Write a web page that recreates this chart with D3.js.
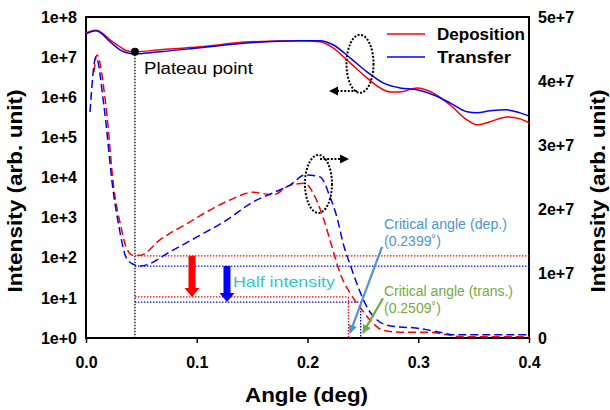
<!DOCTYPE html>
<html>
<head>
<meta charset="utf-8">
<script src="https://cdn.jsdelivr.net/npm/d3@7"></script>
<style>
  body { margin: 0; background: #fff; }
  text { font-family: "Liberation Sans", Arial, sans-serif; }
</style>
</head>
<body>
<div id="chart"></div>
<script>
// ── Axis ticks ───────────────────────────────────────────────
const angleTicks      = [0, 0.1, 0.2, 0.3, 0.4];
const leftTicks       = [1, 1e1, 1e2, 1e3, 1e4, 1e5, 1e6, 1e7, 1e8];
const leftTickLabels  = ['1e+0', '1e+1', '1e+2', '1e+3', '1e+4', '1e+5', '1e+6', '1e+7', '1e+8'];
const rightTicks      = [0, 1e7, 2e7, 3e7, 4e7, 5e7];
const rightTickLabels = ['0', '1e+7', '2e+7', '3e+7', '4e+7', '5e+7'];

// ── Solid curves (left, log axis) ───────────────────────────
const depSolidAngle = [0, 0.009, 0.0144, 0.0217, 0.0307, 0.037, 0.0442, 0.0668, 0.1029, 0.1481, 0.1932, 0.2113, 0.223, 0.2384, 0.2537, 0.2655, 0.2745, 0.2835, 0.2989, 0.3133, 0.3287, 0.344, 0.353, 0.3648, 0.3801, 0.3919, 0.4];
const depSolid      = [4.04e7, 4.66e7, 4.04e7, 2.70e7, 1.81e7, 1.44e7, 1.36e7, 1.52e7, 1.81e7, 2.41e7, 2.55e7, 2.41e7, 1.71e7, 7.21e6, 3.05e6, 1.71e6, 1.36e6, 1.36e6, 1.71e6, 1.29e6, 6.46e5, 2.73e5, 2.05e5, 2.44e5, 3.24e5, 2.89e5, 2.30e5];
const trSolidAngle  = [0, 0.009, 0.0144, 0.0217, 0.0307, 0.037, 0.0442, 0.0668, 0.1029, 0.1481, 0.1932, 0.2113, 0.223, 0.2384, 0.2537, 0.2682, 0.2835, 0.2989, 0.3133, 0.3287, 0.344, 0.353, 0.3648, 0.3801, 0.3919, 0.4];
const trSolid       = [3.81e7, 4.53e7, 3.81e7, 2.41e7, 1.52e7, 1.28e7, 1.21e7, 1.36e7, 1.71e7, 2.28e7, 2.55e7, 2.55e7, 2.03e7, 9.62e6, 4.30e6, 2.29e6, 1.71e6, 1.53e6, 1.15e6, 7.24e5, 4.33e5, 4.08e5, 4.58e5, 4.85e5, 4.08e5, 3.44e5];

// ── Dashed curves (right, linear axis) ──────────────────────
const depDashAngle = [0.0072, 0.0099, 0.0181, 0.0253, 0.0316, 0.0361, 0.0424, 0.0488, 0.0668, 0.0939, 0.1147, 0.13, 0.1508, 0.1688, 0.1842, 0.1977, 0.205, 0.214, 0.2221, 0.2294, 0.2384, 0.2474, 0.2564, 0.2682, 0.2835, 0.3106, 0.326, 0.3377, 0.4];
const depDash      = [4.14e7, 4.41e7, 3.60e7, 2.31e7, 1.73e7, 1.42e7, 1.29e7, 1.29e7, 1.53e7, 1.81e7, 2.02e7, 2.15e7, 2.27e7, 2.23e7, 2.38e7, 2.41e7, 2.26e7, 1.88e7, 1.42e7, 1.01e7, 0.70e7, 0.48e7, 0.28e7, 0.12e7, 0.09e7, 0.09e7, 0.05e7, 0.02e7, 0.02e7];
const trDashAngle  = [0.0036, 0.009, 0.0163, 0.0244, 0.0298, 0.0361, 0.0424, 0.0488, 0.0786, 0.1029, 0.1273, 0.1508, 0.1688, 0.1842, 0.1977, 0.2113, 0.2203, 0.2266, 0.2321, 0.2402, 0.2479, 0.2551, 0.2628, 0.2718, 0.2835, 0.2953, 0.3196, 0.3314, 0.4];
const trDash       = [3.52e7, 4.38e7, 3.60e7, 2.31e7, 1.73e7, 1.26e7, 1.15e7, 1.12e7, 1.37e7, 1.60e7, 1.84e7, 2.12e7, 2.26e7, 2.38e7, 2.54e7, 2.51e7, 2.20e7, 1.88e7, 1.48e7, 1.06e7, 0.70e7, 0.44e7, 0.28e7, 0.20e7, 0.17e7, 0.16e7, 0.09e7, 0.05e7, 0.05e7];

// ── Annotations ─────────────────────────────────────────────
const plateau      = { angle: 0.0442, value: 1.36e7 };
const depLevels    = [1.28e7, 0.64e7];   // red: plateau level, half
const trLevels     = [1.12e7, 0.56e7];   // blue: plateau level, half
const critAngles   = [0.237, 0.248];     // dep, trans (as drawn)
const halfArrowAt  = [0.0957, 0.1273];   // red, blue arrow angles

const RED  = '#ff0000';
const BLUE = '#0000ff';

// ── Layout ──────────────────────────────────────────────────
const W = 610, H = 410;
const L = 86, R = 529, T = 17, B = 338;

const svg = d3.select('#chart').append('svg')
  .attr('width', W).attr('height', H);

const x  = d3.scaleLinear().domain([0, 0.4]).range([L, R]);
const yL = d3.scaleLog().domain([1, 1e8]).range([B, T]);
const yR = d3.scaleLinear().domain([0, 5e7]).range([B, T]);

svg.append('defs').append('marker')
  .attr('id', 'head').attr('viewBox', '0 -5 10 10')
  .attr('refX', 9).attr('markerWidth', 4).attr('markerHeight', 4)
  .attr('markerUnits', 'strokeWidth').attr('orient', 'auto')
  .append('path').attr('d', 'M0,-5L10,0L0,5Z').attr('fill', 'context-stroke');

// ── Axes ────────────────────────────────────────────────────
const xAxis = svg.append('g').attr('transform', `translate(0,${B})`)
  .call(d3.axisBottom(x).tickValues(angleTicks).tickFormat(d3.format('.1f')).tickSize(5).tickPadding(14));
const lAxis = svg.append('g').attr('transform', `translate(${L},0)`)
  .call(d3.axisLeft(yL).tickValues(leftTicks).tickFormat((d, i) => leftTickLabels[i]).tickSize(0).tickPadding(9));
const rAxis = svg.append('g').attr('transform', `translate(${R},0)`)
  .call(d3.axisRight(yR).tickValues(rightTicks).tickFormat((d, i) => rightTickLabels[i]).tickSize(0).tickPadding(9));

[xAxis, lAxis, rAxis].forEach(g => {
  g.select('.domain').remove();
  g.selectAll('line').attr('stroke', '#000').attr('stroke-width', 1.5);
  g.selectAll('text').attr('font-size', 16).attr('font-weight', 'bold')
    .attr('fill', '#000').style('font-family', '"Liberation Sans", Arial, sans-serif');
});

svg.append('rect')
  .attr('x', L).attr('y', T).attr('width', R - L).attr('height', B - T)
  .attr('fill', 'none').attr('stroke', '#000').attr('stroke-width', 2);

// Axis titles
svg.append('text')
  .attr('x', (L + R) / 2 - 1).attr('y', 402)
  .attr('text-anchor', 'middle').attr('font-size', 20).attr('font-weight', 'bold')
  .attr('textLength', 123).attr('lengthAdjust', 'spacingAndGlyphs')
  .text('Angle (deg)');
svg.append('text')
  .attr('transform', 'translate(22,191) rotate(-90)')
  .attr('text-anchor', 'middle').attr('font-size', 20).attr('font-weight', 'bold')
  .attr('textLength', 203).attr('lengthAdjust', 'spacingAndGlyphs')
  .text('Intensity (arb. unit)');
svg.append('text')
  .attr('transform', 'translate(605,191) rotate(-90)')
  .attr('text-anchor', 'middle').attr('font-size', 20).attr('font-weight', 'bold')
  .attr('textLength', 203).attr('lengthAdjust', 'spacingAndGlyphs')
  .text('Intensity (arb. unit)');

const plot = svg.append('g');

// ── Plateau marker ──────────────────────────────────────────
plot.append('line')
  .attr('x1', x(plateau.angle)).attr('x2', x(plateau.angle))
  .attr('y1', yL(plateau.value)).attr('y2', B)
  .attr('stroke', '#000').attr('stroke-width', 1.3).attr('stroke-dasharray', '1.5,1.5');

// ── Half-intensity levels ───────────────────────────────────
function levelLines(levels, crit, color) {
  const g = plot.append('g')
    .attr('stroke', color).attr('stroke-width', 1.3).attr('stroke-dasharray', '1.5,1.5');
  g.append('line')
    .attr('x1', x(plateau.angle)).attr('x2', R)
    .attr('y1', yR(levels[0])).attr('y2', yR(levels[0]));
  g.append('line')
    .attr('x1', x(plateau.angle)).attr('x2', x(crit))
    .attr('y1', yR(levels[1])).attr('y2', yR(levels[1]));
  g.append('line')
    .attr('x1', x(crit)).attr('x2', x(crit))
    .attr('y1', yR(levels[1])).attr('y2', B);
}
levelLines(depLevels, critAngles[0], RED);
levelLines(trLevels,  critAngles[1], BLUE);

// ── Curves ──────────────────────────────────────────────────
const pts = (xs, ys) => d3.zip(xs, ys);
const lineL = d3.line().x(d => x(d[0])).y(d => yL(d[1])).curve(d3.curveMonotoneX);
const lineR = d3.line().x(d => x(d[0])).y(d => yR(d[1])).curve(d3.curveMonotoneX);

const curves = [
  { d: lineR(pts(depDashAngle, depDash)),   color: RED,  dash: '8,4' },
  { d: lineR(pts(trDashAngle, trDash)),     color: BLUE, dash: '8,4' },
  { d: lineL(pts(depSolidAngle, depSolid)), color: RED,  dash: null },
  { d: lineL(pts(trSolidAngle, trSolid)),   color: BLUE, dash: null },
];
plot.selectAll('path.curve')
  .data(curves)
  .join('path')
  .attr('class', 'curve')
  .attr('d', c => c.d)
  .attr('fill', 'none')
  .attr('stroke', c => c.color)
  .attr('stroke-width', 1.5)
  .attr('stroke-dasharray', c => c.dash);

plot.append('circle')
  .attr('cx', x(plateau.angle)).attr('cy', yL(plateau.value)).attr('r', 4).attr('fill', '#000');

svg.append('text')
  .attr('x', x(plateau.angle) + 9).attr('y', 74)
  .attr('font-size', 17).attr('textLength', 109).attr('lengthAdjust', 'spacingAndGlyphs')
  .text('Plateau point');

// ── Half-intensity block arrows ─────────────────────────────
function blockArrow(angle, from, to, color) {
  const cx = x(angle), y0 = yR(from), y1 = yR(to);
  const sw = 3.5, hw = 7.5, hl = 9;
  const p = d3.path();
  p.moveTo(cx - sw, y0); p.lineTo(cx + sw, y0); p.lineTo(cx + sw, y1 - hl);
  p.lineTo(cx + hw, y1 - hl); p.lineTo(cx, y1); p.lineTo(cx - hw, y1 - hl);
  p.lineTo(cx - sw, y1 - hl); p.closePath();
  plot.append('path').attr('d', p.toString()).attr('fill', color);
}
blockArrow(halfArrowAt[0], depLevels[0], depLevels[1], RED);
blockArrow(halfArrowAt[1], trLevels[0],  trLevels[1],  BLUE);

svg.append('text')
  .attr('x', x(halfArrowAt[1]) + 6).attr('y', 287)
  .attr('font-size', 15).attr('fill', '#33c6cc')
  .attr('textLength', 102).attr('lengthAdjust', 'spacingAndGlyphs')
  .text('Half intensity');

// ── Critical angle callouts ─────────────────────────────────
const callouts = [
  { lines: ['Critical angle (dep.)', '(0.2399˚)'],    color: '#4f94d4', y: 229, len: 123,
    from: [0.2673, 1.42e7], to: [0.2384, 0.08e7] },
  { lines: ['Critical angle (trans.)', '(0.2509˚)'],  color: '#72aa45', y: 296, len: 129,
    from: [0.2682, 0.62e7], to: [0.2501, 0.08e7] },
];
callouts.forEach(c => {
  const t = svg.append('text').attr('font-size', 14).attr('fill', c.color);
  t.append('tspan').attr('x', 384).attr('y', c.y)
    .attr('textLength', c.len).attr('lengthAdjust', 'spacingAndGlyphs').text(c.lines[0]);
  t.append('tspan').attr('x', 384).attr('y', c.y + 17).text(c.lines[1]);
  plot.append('line')
    .attr('x1', x(c.from[0])).attr('y1', yR(c.from[1]))
    .attr('x2', x(c.to[0])).attr('y2', yR(c.to[1]))
    .attr('stroke', c.color).attr('stroke-width', 2.2)
    .attr('marker-end', 'url(#head)');
});

// ── Dotted ellipses with axis-pointing arrows ───────────────
function axisPointer(cx, cy, ax, ay, tip) {
  plot.append('ellipse')
    .attr('cx', cx).attr('cy', cy).attr('rx', 13.5).attr('ry', 29)
    .attr('fill', 'none').attr('stroke', '#000').attr('stroke-width', 2)
    .attr('stroke-dasharray', '2,1.6');
  const dir = Math.sign(tip - ax);
  plot.append('line')
    .attr('x1', ax).attr('x2', tip - dir * 7).attr('y1', ay).attr('y2', ay)
    .attr('stroke', '#000').attr('stroke-width', 2).attr('stroke-dasharray', '2,1.6');
  plot.append('path')
    .attr('d', `M${tip},${ay}L${tip - dir * 9},${ay - 4.5}L${tip - dir * 9},${ay + 4.5}Z`)
    .attr('fill', '#000');
}
// solid curves -> left axis
axisPointer(x(0.2474), yL(6.8e6), x(0.2447), yL(1.44e6), x(0.2194));
// dashed curves -> right axis
axisPointer(x(0.2099), yR(2.40e7), x(0.2113), yR(2.79e7), x(0.2375));

// ── Legend ──────────────────────────────────────────────────
const legend = svg.append('g');
[['Deposition', RED, 34, 88], ['Transfer', BLUE, 57, 74]].forEach(([name, color, ly, len]) => {
  legend.append('line').attr('x1', 387).attr('x2', 425).attr('y1', ly).attr('y2', ly)
    .attr('stroke', color).attr('stroke-width', 1.5);
  legend.append('text').attr('x', 437).attr('y', ly + 6)
    .attr('font-size', 16).attr('font-weight', 'bold')
    .attr('textLength', len).attr('lengthAdjust', 'spacingAndGlyphs').text(name);
});
</script>
</body>
</html>
